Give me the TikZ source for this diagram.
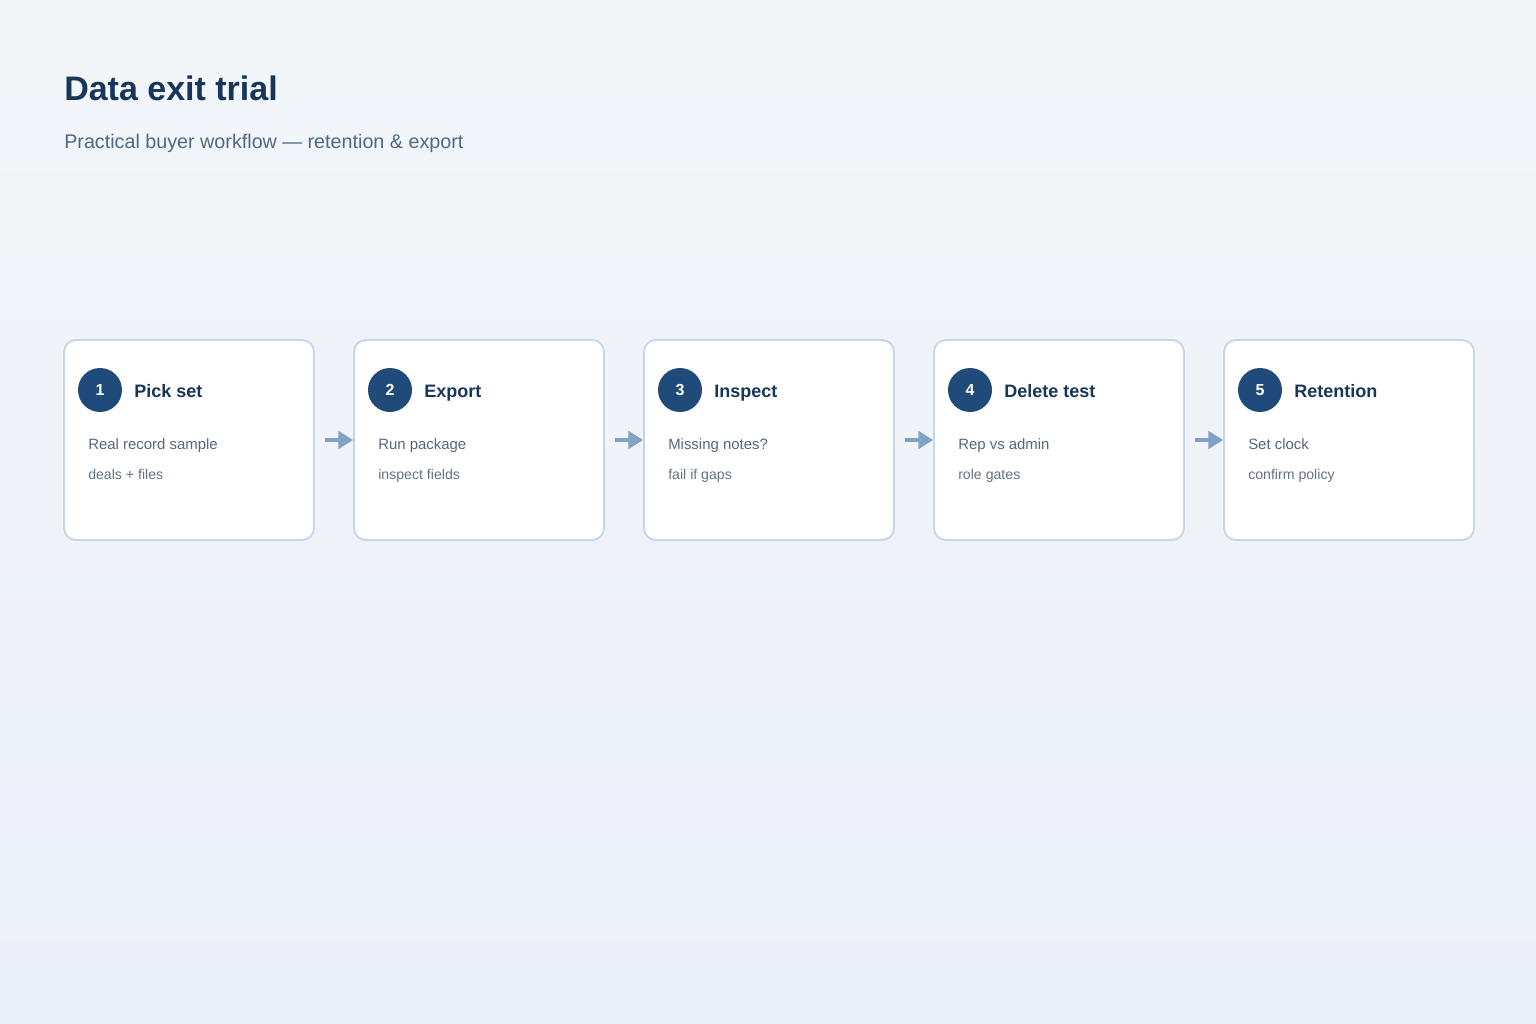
\documentclass[tikz,border=0pt]{standalone}
\usepackage{fontspec}
\setmainfont{Liberation Sans}
\usetikzlibrary{arrows.meta}

\definecolor{bgtop}{HTML}{F3F6F9}
\definecolor{bgbot}{HTML}{EBF0F6}
\definecolor{inkdark}{HTML}{17365A}
\definecolor{inksub}{HTML}{4E6885}
\definecolor{inkbody}{HTML}{56677B}
\definecolor{stepblue}{HTML}{1F4A7A}
\definecolor{cardline}{HTML}{C6D6EA}
\definecolor{flowblue}{HTML}{7FA2C6}

\tikzset{
  card/.style={draw=cardline,line width=1.4pt,fill=white,rounded corners=9pt,
    minimum width=187.5pt,minimum height=150pt,inner sep=0pt},
  badge/.style={circle,fill=stepblue,minimum size=33pt,inner sep=0pt,
    text=white,font=\fontsize{12}{14}\selectfont\bfseries},
  cardtitle/.style={anchor=base west,text=inkdark,inner sep=0pt,
    font=\fontsize{13.5}{16}\selectfont\bfseries},
  cardline1/.style={anchor=base west,text=inkbody,inner sep=0pt,
    font=\fontsize{11.2}{13}\selectfont},
  cardline2/.style={anchor=base west,text=inkbody!92,inner sep=0pt,
    font=\fontsize{10.6}{13}\selectfont},
  flow/.style={draw=flowblue,line width=2.6pt,line cap=butt,
    -{Triangle[length=11pt,width=13pt]}}
}

\begin{document}
\begin{tikzpicture}[line cap=round,line join=round,x=0.75pt,y=-0.75pt]

\shade[top color=bgtop,bottom color=bgbot] (0,0) rectangle (1536,1024);
\useasboundingbox (0,0) rectangle (1536,1024);

% heading
\node[anchor=base west,inner sep=0pt,text=inkdark,font=\fontsize{25.5}{30}\selectfont\bfseries]
  (head) at (64,101) {Data exit trial};
\node[anchor=base west,inner sep=0pt,text=inksub,font=\fontsize{14.8}{18}\selectfont]
  (sub) at (64,148) {Practical buyer workflow — retention \& export};

% cards
\foreach \i/\t/\a/\b in {1/Pick set/Real record sample/deals + files,
                         2/Export/Run package/inspect fields,
                         3/Inspect/Missing notes?/fail if gaps,
                         4/Delete test/Rep vs admin/role gates,
                         5/Retention/Set clock/confirm policy}
{
  \pgfmathsetmacro{\L}{64+(\i-1)*290}
  \node[card] (c\i) at (\L+125,440) {};
  \node[badge] (n\i) at (\L+36,390) {\i};
  \node[cardtitle] (t\i) at (\L+70,397) {\t};
  \node[cardline1] (a\i) at (\L+24,449.5) {\a};
  \node[cardline2] (b\i) at (\L+24,479.5) {\b};
}

% arrows
\foreach \i/\j in {1/2,2/3,3/4,4/5}
  \draw[flow] ([xshift=7.5pt]c\i.east) -- (c\j.west);

\end{tikzpicture}
\end{document}
